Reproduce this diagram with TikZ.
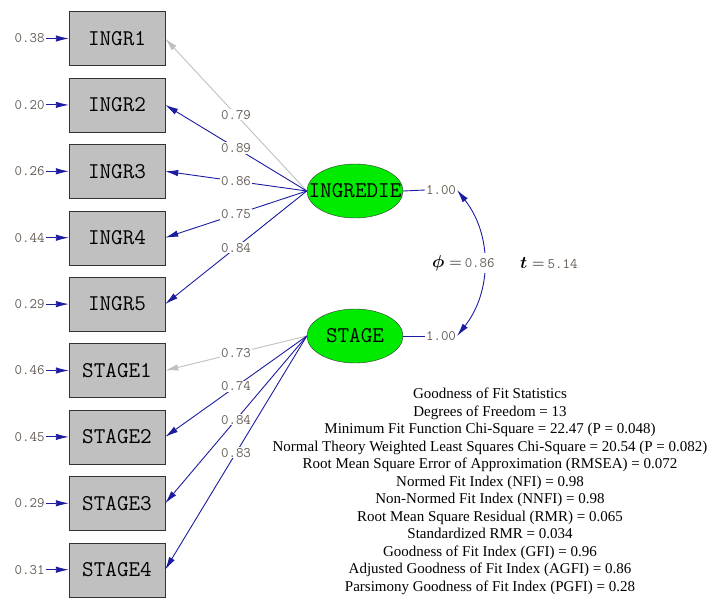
\documentclass[tikz,border=0pt]{standalone}
\usepackage{amsmath}
\usepackage{bm}
\usepackage{fontspec}
\setmainfont{Liberation Serif}
\usetikzlibrary{arrows.meta, shapes.geometric, positioning}
\definecolor{pathblue}{RGB}{28,28,160}
\definecolor{fixgray}{RGB}{192,192,192}
\definecolor{boxgray}{RGB}{192,192,192}
\definecolor{numgray}{RGB}{100,92,84}
\definecolor{latgreen}{RGB}{0,235,0}
\tikzset{
  indicator/.style={draw=black!80, fill=boxgray, minimum width=96pt, minimum height=54pt,
    inner sep=0pt, font=\ttfamily\fontsize{22.5}{22.5}\selectfont},
  latent/.style={ellipse, draw=black!80, fill=latgreen, minimum width=96pt, minimum height=54pt,
    inner sep=0pt, font=\ttfamily\fontsize{22.5}{22.5}\selectfont},
  num/.style={text=numgray, inner sep=1pt, font=\ttfamily\fontsize{14.5}{14.5}\selectfont},
  pnum/.style={num, fill=white, pos=0.5},
  link/.style={line width=0.9pt},
  load/.style={link, pathblue, -{Latex[length=13pt,width=6.5pt]}},
  fixload/.style={link, fixgray, -{Latex[length=13pt,width=6.5pt]}},
}

\begin{document}
\begin{tikzpicture}[x=1pt, y=-1pt]

\useasboundingbox (0,0) rectangle (713,598);

% Indicadores
\node[indicator] (i1) at (117,38.5) {INGR1};
\node[indicator] (i2) at (117,104.9) {INGR2};
\node[indicator] (i3) at (117,171.3) {INGR3};
\node[indicator] (i4) at (117,237.7) {INGR4};
\node[indicator] (i5) at (117,304.1) {INGR5};
\node[indicator] (s1) at (117,370.5) {STAGE1};
\node[indicator] (s2) at (117,436.9) {STAGE2};
\node[indicator] (s3) at (117,503.3) {STAGE3};
\node[indicator] (s4) at (117,569.7) {STAGE4};

% Variáveis latentes
\node[latent] (ingr) at (355,191) {\makebox[0pt]{INGREDIE}};
\node[latent] (stage) at (355,336) {\makebox[0pt]{STAGE}};

% Erros de medida
\foreach \b/\v in {i1/0.38, i2/0.20, i3/0.26, i4/0.44, i5/0.29, s1/0.46, s2/0.45, s3/0.29, s4/0.31} {
  \node[num, left=23pt of \b.west] (e\b) {\v};
  \draw[load] (e\b) -- (\b.west);
}

% Cargas fatoriais
\draw[fixload] (ingr.west) -- node[pnum] {0.79} (i1.east);
\draw[load] (ingr.west) -- node[pnum] {0.89} (i2.east);
\draw[load] (ingr.west) -- node[pnum] {0.86} (i3.east);
\draw[load] (ingr.west) -- node[pnum] {0.75} (i4.east);
\draw[load] (ingr.west) -- node[pnum] {0.84} (i5.east);
\draw[fixload] (stage.west) -- node[pnum] {0.73} (s1.east);
\draw[load] (stage.west) -- node[pnum] {0.74} (s2.east);
\draw[load] (stage.west) -- node[pnum] {0.84} (s3.east);
\draw[load] (stage.west) -- node[pnum] {0.83} (s4.east);

% Variâncias das latentes
\node[num] (vi) at (441,190) {1.00};
\node[num] (vs) at (441,336) {1.00};
\draw[link, pathblue] (ingr.east) -- (vi.west);
\draw[link, pathblue] (stage.east) -- (vs.west);

% Correlação
\draw[link, pathblue, {Latex[length=13pt,width=6.5pt]}-{Latex[length=13pt,width=6.5pt]}]
  (vi.east) to[bend left=38] (vs.east);
\node[fill=white, inner sep=2pt, anchor=west] (phi) at (430,263)
  {\fontsize{18}{18}\selectfont$\boldsymbol{\phi}=$\,\textcolor{numgray}{\ttfamily\fontsize{14.5}{14.5}\selectfont 0.86}};
\node[inner sep=2pt, anchor=west] (tval) at (518,263)
  {\fontsize{18}{18}\selectfont$\boldsymbol{t}=$\,\textcolor{numgray}{\ttfamily\fontsize{14.5}{14.5}\selectfont 5.14}};

% Estatísticas de ajuste
\node[anchor=north, align=center, inner sep=0pt, font=\fontsize{15}{17.5}\selectfont] (fit) at (490,388) {
Goodness of Fit Statistics\\
Degrees of Freedom = 13\\
Minimum Fit Function Chi-Square = 22.47 (P = 0.048)\\
Normal Theory Weighted Least Squares Chi-Square = 20.54 (P = 0.082)\\
Root Mean Square Error of Approximation (RMSEA) = 0.072\\
Normed Fit Index (NFI) = 0.98\\
Non-Normed Fit Index (NNFI) = 0.98\\
Root Mean Square Residual (RMR) = 0.065\\
Standardized RMR = 0.034\\
Goodness of Fit Index (GFI) = 0.96\\
Adjusted Goodness of Fit Index (AGFI) = 0.86\\
Parsimony Goodness of Fit Index (PGFI) = 0.28};

\end{tikzpicture}
\end{document}
